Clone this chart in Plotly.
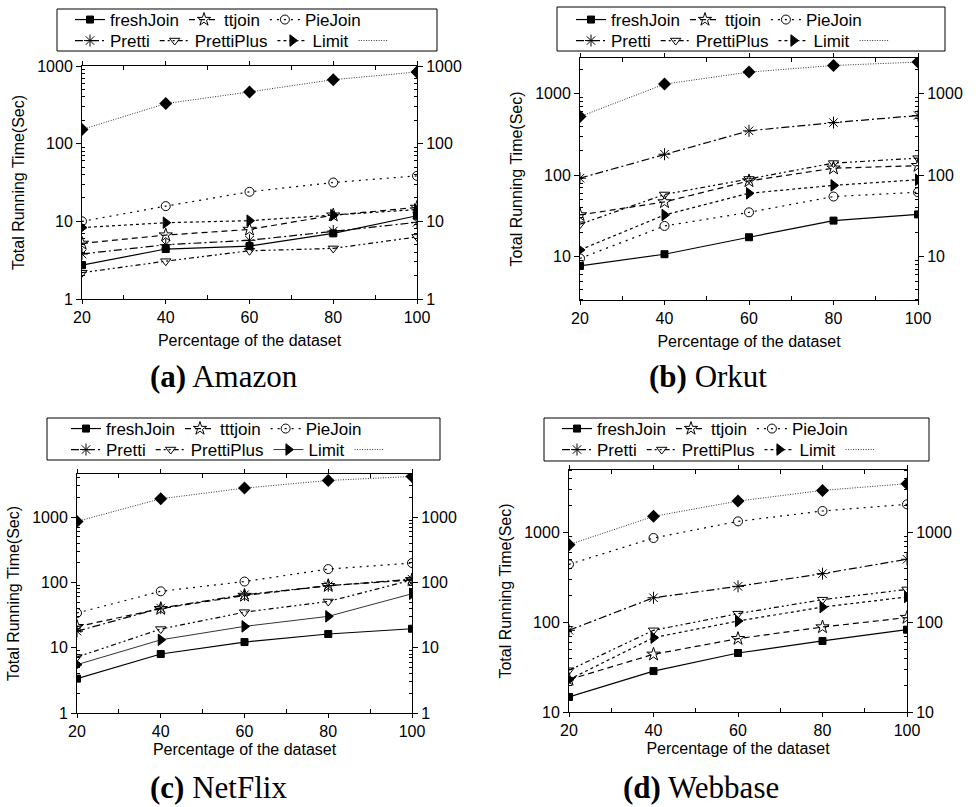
import plotly.graph_objects as go

# ---------------- data ----------------
pct = [20, 40, 60, 80, 100]

amazon_freshjoin = [2.73, 4.4, 4.8, 7.0, 11.8]
amazon_ttjoin = [5.2, 6.65, 7.86, 12.0, 15.1]
amazon_piejoin = [10.0, 15.7, 24.0, 31.6, 38.5]
amazon_pretti = [3.8, 5.0, 5.7, 7.5, 9.7]
amazon_prettiplus = [2.18, 3.07, 4.18, 4.48, 6.3]
amazon_limit = [8.3, 9.6, 10.2, 12.0, 14.2]
amazon_upper = [152, 328, 464, 667, 838]

orkut_freshjoin = [7.7, 10.7, 17.3, 27.7, 33]
orkut_ttjoin = [32.5, 47, 85, 122, 131]
orkut_piejoin = [9.5, 23.8, 35, 54.7, 61.8]
orkut_pretti = [92, 181, 351, 443, 541]
orkut_prettiplus = [25, 58, 90, 141, 162]
orkut_limit = [12.1, 32.5, 60, 75, 88]
orkut_upper = [525, 1316, 1848, 2230, 2455]

netflix_freshjoin = [3.36, 8.0, 12.2, 16.2, 19.5]
netflix_ttjoin = [21, 39.6, 63, 89, 109]
netflix_piejoin = [34, 73, 103, 160, 198]
netflix_pretti = [17.9, 40.4, 64.7, 88.9, 112]
netflix_prettiplus = [7.2, 19.3, 35, 51, 109]
netflix_limit = [5.5, 13.2, 21.2, 30.2, 67]
netflix_upper = [858, 1910, 2780, 3640, 4190]

webbase_freshjoin = [14.7, 28.6, 45.5, 62, 82.8]
webbase_ttjoin = [23, 44, 65.8, 88.7, 113]
webbase_piejoin = [443, 872, 1337, 1745, 2070]
webbase_pretti = [81.5, 188, 252, 349, 505]
webbase_prettiplus = [29.2, 81.5, 125, 179, 233]
webbase_limit = [23, 67.5, 103.5, 148, 192]
webbase_upper = [735, 1520, 2250, 2963, 3516]

series_keys = ["freshJoin", "ttjoin", "PieJoin", "Pretti", "PrettiPlus", "Limit"]
legend_labels = {
    "a": ["freshJoin", "ttjoin", "PieJoin", "Pretti", "PrettiPlus", "Limit"],
    "b": ["freshJoin", "ttjoin", "PieJoin", "Pretti", "PrettiPlus", "Limit"],
    "c": ["freshJoin", "tttjoin", "PieJoin", "Pretti", "PrettiPlus", "Limit"],
    "d": ["freshJoin", "ttjoin", "PieJoin", "Pretti", "PrettiPlus", "Limit"],
}
captions = {"a": "Amazon", "b": "Orkut", "c": "NetFlix", "d": "Webbase"}
x_ticks = [20, 40, 60, 80, 100]
y_ticks = {"a": [1, 10, 100, 1000], "b": [10, 100, 1000],
           "c": [1, 10, 100, 1000], "d": [10, 100, 1000]}

datasets = {
    "a": [amazon_freshjoin, amazon_ttjoin, amazon_piejoin, amazon_pretti,
          amazon_prettiplus, amazon_limit, amazon_upper],
    "b": [orkut_freshjoin, orkut_ttjoin, orkut_piejoin, orkut_pretti,
          orkut_prettiplus, orkut_limit, orkut_upper],
    "c": [netflix_freshjoin, netflix_ttjoin, netflix_piejoin, netflix_pretti,
          netflix_prettiplus, netflix_limit, netflix_upper],
    "d": [webbase_freshjoin, webbase_ttjoin, webbase_piejoin, webbase_pretti,
          webbase_prettiplus, webbase_limit, webbase_upper],
}

# ---------------- styles / layout ----------------
W, H = 979, 807
SANS = "Liberation Sans, Arial, sans-serif"
SERIF = "Liberation Serif, Times New Roman, serif"

styles = {
    "freshJoin": dict(dash="solid", symbol="square", size=7),
    "ttjoin": dict(dash="6px,4px", symbol="star-open", size=10),
    "PieJoin": dict(dash="2px,5px", symbol="circle-open", size=9),
    "Pretti": dict(dash="8px,3px,2px,3px", symbol="asterisk-open", size=10),
    "PrettiPlus": dict(dash="5px,3px,2px,3px,2px,3px", symbol="triangle-down-open", size=9),
    "Limit": dict(dash="3px,3px", symbol="triangle-right", size=10),
}

# pixel geometry of each panel
panels = {
    "a": dict(x0=82, x1=417, y0=66, y1=299, yr=[0, 3],
              box=(57, 9, 437, 51), rows=(20, 41), legx=(70, 70),
              standoff=9, cap=(224, 376)),
    "b": dict(x0=580, x1=918, y0=58, y1=300, yr=[0.467, 3.44],
              box=(557, 7, 945, 51), rows=(20, 41), legx=(571, 571),
              standoff=9, cap=(708, 376)),
    "c": dict(x0=77, x1=412, y0=474, y1=713, yr=[0, 3.66],
              box=(47, 418, 440, 460), rows=(429, 450), legx=(66, 66),
              standoff=4, cap=(218, 787)),
    "d": dict(x0=569, x1=907, y0=470, y1=712, yr=[1, 3.699],
              box=(544, 418, 929, 461), rows=(429, 450), legx=(557, 557),
              standoff=4, cap=(701, 787)),
}

minor_vals = [k * 10 ** e for e in range(0, 4) for k in range(2, 10)]

fig = go.Figure()
layout = dict(width=W, height=H, margin=dict(l=0, r=0, t=0, b=0),
              paper_bgcolor="white", plot_bgcolor="white", showlegend=True,
              font=dict(family=SANS, size=16, color="black"))
shapes, annotations = [], []

for p, key in enumerate(["a", "b", "c", "d"]):
    g = panels[key]
    xa = "x" if p == 0 else f"x{p + 1}"
    ya = "y" if p == 0 else f"y{p + 1}"
    yr_id = p + 5
    leg1 = "legend" if p == 0 else f"legend{2 * p + 1}"
    leg2 = f"legend{2 * p + 2}"
    vals = datasets[key]
    labels = legend_labels[key]
    for i, sk in enumerate(series_keys):
        st = styles[sk]
        dash = st["dash"]
        lw = 1.2
        if key == "c" and sk == "Limit":
            dash, lw = "solid", 0.8
        fig.add_trace(go.Scatter(
            x=pct, y=vals[i], mode="lines+markers", name=labels[i],
            xaxis=xa, yaxis=ya, legend=leg1 if i < 3 else leg2,
            line=dict(color="black", width=lw, dash=dash),
            marker=dict(symbol=st["symbol"], size=st["size"], color="black",
                        line=dict(color="black", width=1)),
        ))
    # upper (diamond) series: dotted line in legend, markers separate
    fig.add_trace(go.Scatter(
        x=pct, y=vals[6], mode="lines", name="", xaxis=xa, yaxis=ya, legend=leg2,
        line=dict(color="#333333", width=1, dash="1px,1.5px"),
    ))
    fig.add_trace(go.Scatter(
        x=pct, y=vals[6], mode="markers", showlegend=False, xaxis=xa,
        yaxis=f"y{yr_id}",
        marker=dict(symbol="diamond", size=10, color="black"),
    ))

    xdom = [g["x0"] / W, g["x1"] / W]
    ydom = [1 - g["y1"] / H, 1 - g["y0"] / H]
    axname = "xaxis" if p == 0 else f"xaxis{p + 1}"
    ayname = "yaxis" if p == 0 else f"yaxis{p + 1}"
    layout[axname] = dict(
        domain=xdom, anchor=ya, range=[20, 100], tickmode="array", tickvals=x_ticks,
        ticks="outside", ticklen=4, tickcolor="black", showline=True, linecolor="black",
        linewidth=1, mirror="ticks", showgrid=False, zeroline=False,
        tickfont=dict(family=SANS, size=16), automargin=False,
        minor=dict(tickmode="array", tickvals=[30, 50, 70, 90], ticks="inside",
                   ticklen=4, tickcolor="black"),
        title=dict(text="Percentage of the dataset", font=dict(family=SANS, size=16),
                   standoff=g["standoff"]),
    )
    ycommon = dict(
        type="log", range=g["yr"], tickmode="array", tickvals=y_ticks[key],
        ticktext=[str(v) for v in y_ticks[key]], ticks="outside", ticklen=5,
        tickcolor="black", showgrid=False, zeroline=False, showline=True,
        linecolor="black", linewidth=1, tickfont=dict(family=SANS, size=16),
        automargin=False,
        minor=dict(tickmode="array", tickvals=minor_vals, ticks="inside",
                   ticklen=3, tickcolor="black"),
    )
    layout[ayname] = dict(domain=ydom, anchor=xa, side="left",
                          title=dict(text="Total Running Time(Sec)",
                                     font=dict(family=SANS, size=16), standoff=8),
                          **ycommon)
    layout[f"yaxis{yr_id}"] = dict(overlaying=ya, anchor=xa, side="right", **ycommon)

    # legend rows
    for r, lg in enumerate([leg1, leg2]):
        layout[lg] = dict(
            orientation="h", x=g["legx"][r] / W, xanchor="left",
            y=1 - g["rows"][r] / H, yanchor="middle", bgcolor="rgba(0,0,0,0)",
            borderwidth=0, font=dict(family=SANS, size=17, color="black"),
            itemwidth=30, tracegroupgap=0, itemclick=False,
        )
    bx0, by0, bx1, by1 = g["box"]
    shapes.append(dict(type="rect", xref="paper", yref="paper",
                       x0=bx0 / W, x1=bx1 / W, y0=1 - by1 / H, y1=1 - by0 / H,
                       line=dict(color="black", width=1)))
    annotations.append(dict(
        xref="paper", yref="paper", x=g["cap"][0] / W, y=1 - g["cap"][1] / H,
        xanchor="center", yanchor="middle", showarrow=False,
        text=f"<b>({key})</b> {captions[key]}",
        font=dict(family=SERIF, size=31, color="black")))

layout["shapes"] = shapes
layout["annotations"] = annotations
fig.update_layout(**layout)

fig.write_html("out.html", config={"displayModeBar": False},
               post_script="document.body.style.margin='0';")
